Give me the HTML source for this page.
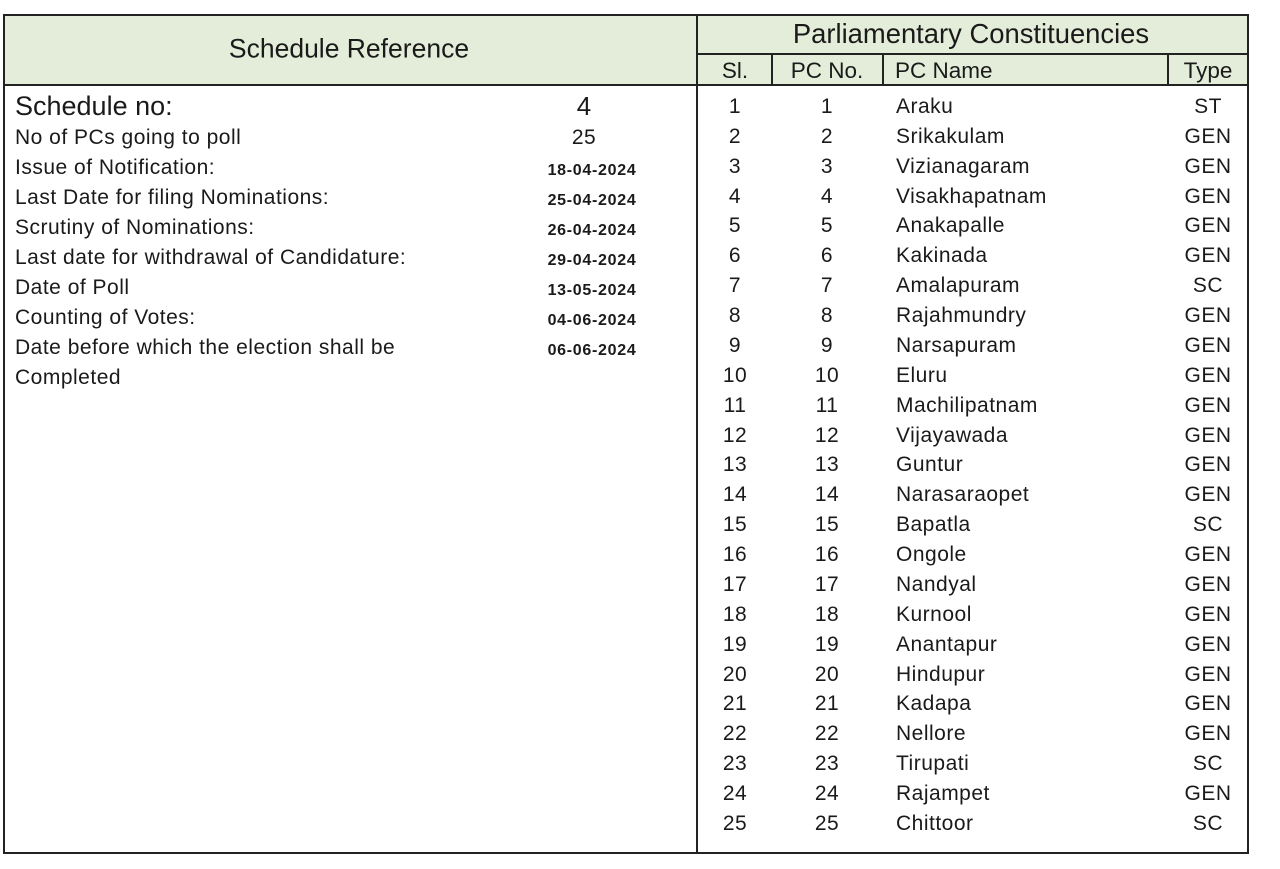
<!DOCTYPE html>
<html><head><style>
body{margin:0;width:1280px;height:869px;background:#fff;position:relative;font-family:"Liberation Sans",sans-serif;color:#1a1a1a;overflow:hidden}
.a{position:absolute;white-space:nowrap}
.l{position:absolute;background:#222}
.t{font-size:21px;letter-spacing:0.5px;line-height:24px;transform:translateY(-12px)}
.c{transform:translate(-50%,-12px)}
.d{font-size:16px;letter-spacing:0.7px;font-weight:bold;transform:translate(-50%,-9px)}
</style></head><body>
<div class="a" style="left:3px;top:14px;width:1245px;height:71px;background:#e4edd9"></div>
<div class="l" style="left:3px;top:14px;width:1246px;height:2px"></div>
<div class="l" style="left:3px;top:852px;width:1246px;height:2px"></div>
<div class="l" style="left:3px;top:14px;width:2px;height:840px"></div>
<div class="l" style="left:1247px;top:14px;width:2px;height:840px"></div>
<div class="l" style="left:696px;top:14px;width:2px;height:840px"></div>
<div class="l" style="left:3px;top:84px;width:1246px;height:2px"></div>
<div class="l" style="left:697px;top:53px;width:551px;height:2px"></div>
<div class="l" style="left:771px;top:54px;width:2px;height:31px"></div>
<div class="l" style="left:882px;top:54px;width:2px;height:31px"></div>
<div class="l" style="left:1167px;top:54px;width:2px;height:31px"></div>
<div class="a" style="left:349px;top:49px;font-size:26.5px;transform:translate(-50%,-50%)">Schedule Reference</div>
<div class="a" style="left:971px;top:34px;font-size:27.4px;transform:translate(-50%,-50%)">Parliamentary Constituencies</div>
<div class="a" style="left:735px;top:71px;font-size:22.5px;transform:translate(-50%,-50%)">Sl.</div>
<div class="a" style="left:827px;top:71px;font-size:22.5px;transform:translate(-50%,-50%)">PC No.</div>
<div class="a" style="left:895px;top:71px;font-size:22.5px;transform:translateY(-50%)">PC Name</div>
<div class="a" style="left:1208px;top:71px;font-size:22.5px;transform:translate(-50%,-50%)">Type</div>
<div class="a" style="left:15px;top:91px;font-size:27px;line-height:30px">Schedule no:</div>
<div class="a" style="left:584px;top:91px;font-size:26px;line-height:30px;transform:translateX(-50%)">4</div>
<div id="L"></div><div id="R"></div>
<script>
var L=[["No of PCs going to poll","25",0],["Issue of Notification:","18-04-2024",1],["Last Date for filing Nominations:","25-04-2024",1],["Scrutiny of Nominations:","26-04-2024",1],["Last date for withdrawal of Candidature:","29-04-2024",1],["Date of Poll","13-05-2024",1],["Counting of Votes:","04-06-2024",1],["Date before which the election shall be","06-06-2024",1],["Completed","",0]];
var h="";L.forEach(function(r,i){var y=138+i*30;h+='<div class="a t" style="left:15px;top:'+y+'px">'+r[0]+'</div>';
if(r[1])h+='<div class="a '+(r[2]?'d':'t c')+'" style="left:'+(r[2]?592:584)+'px;top:'+(r[2]?y+3:y)+'px">'+r[1]+'</div>';});
document.getElementById("L").innerHTML=h;
var N=["Araku","Srikakulam","Vizianagaram","Visakhapatnam","Anakapalle","Kakinada","Amalapuram","Rajahmundry","Narsapuram","Eluru","Machilipatnam","Vijayawada","Guntur","Narasaraopet","Bapatla","Ongole","Nandyal","Kurnool","Anantapur","Hindupur","Kadapa","Nellore","Tirupati","Rajampet","Chittoor"];
var T="ST GEN GEN GEN GEN GEN SC GEN GEN GEN GEN GEN GEN GEN SC GEN GEN GEN GEN GEN GEN GEN SC GEN SC".split(" ");
h="";N.forEach(function(n,i){var y=107+i*29.87;
h+='<div class="a t c" style="left:735px;top:'+y+'px">'+(i+1)+'</div><div class="a t c" style="left:827px;top:'+y+'px">'+(i+1)+'</div><div class="a t" style="left:896px;top:'+y+'px">'+n+'</div><div class="a t c" style="left:1208px;top:'+y+'px">'+T[i]+'</div>';});
document.getElementById("R").innerHTML=h;
</script>
</body></html>
